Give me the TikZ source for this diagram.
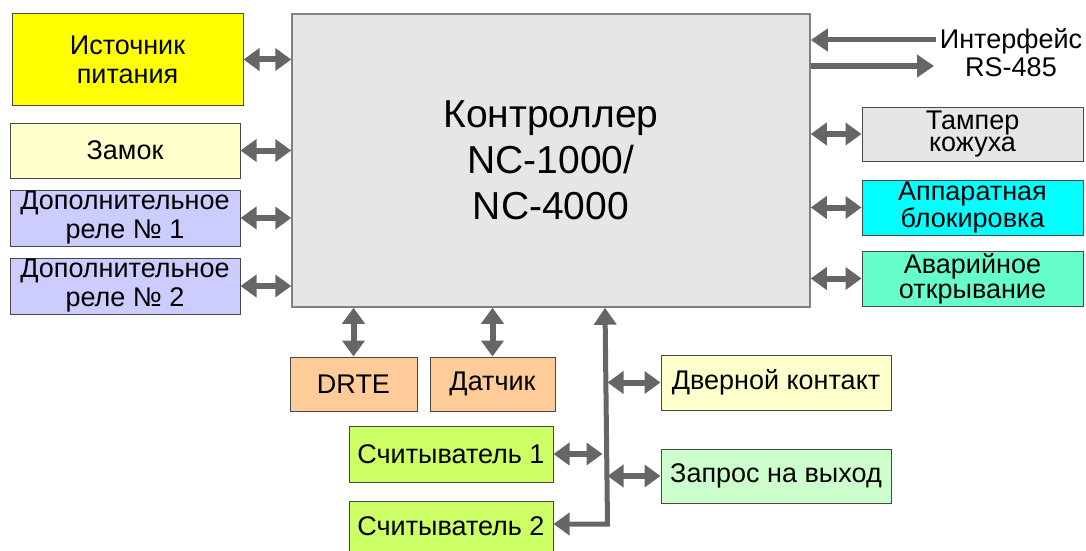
\documentclass[tikz,border=0pt]{standalone}
\usepackage{fontspec}
\setmainfont{Liberation Sans}
\usetikzlibrary{arrows.meta,positioning}
\definecolor{ink}     {HTML}{1A1A1A}
\definecolor{arrgray} {HTML}{666666}
\definecolor{ctlfill} {HTML}{E6E6E6}
\definecolor{pwrfill} {HTML}{FFFF00}
\definecolor{paleyel} {HTML}{FFFFCC}
\definecolor{relfill} {HTML}{CCCCFF}
\definecolor{cyanfill}{HTML}{00FFFF}
\definecolor{aquafill}{HTML}{66FFCC}
\definecolor{peach}   {HTML}{FFCC99}
\definecolor{limefill}{HTML}{CCFF66}
\definecolor{mintfill}{HTML}{CCFFCC}

\tikzset{
  unit/.style={draw=ink!80,line width=1pt,inner sep=0pt,align=center,
    font=\fontsize{27}{29}\selectfont},
  link/.style={draw=arrgray,line width=6pt,
    {Triangle[length=16pt,width=22pt]}-{Triangle[length=16pt,width=22pt]}},
  oneway/.style={draw=arrgray,line width=5pt,-{Triangle[length=17pt,width=22pt]}},
}

\begin{document}
\begin{tikzpicture}[x=1pt,y=-1pt]
  \useasboundingbox (0,0) rectangle (1086,551);
  % controller
  \node[draw=gray,line width=1.5pt,fill=ctlfill,minimum width=518pt,minimum height=293pt,
        align=center,font=\fontsize{39}{46}\selectfont] (ctl) at (551,160.5)
        {Контроллер\\NC-1000/\\NC-4000};
  % left side
  \node[unit,fill=pwrfill,minimum width=231pt,minimum height=91pt] (pwr) at (127.5,59.5) {Источник\\питания};
  \node[unit,fill=paleyel,minimum width=230pt,minimum height=55pt] (lock) at (125,150.5) {Замок};
  \node[unit,fill=relfill,minimum width=230pt,minimum height=56pt] (rel1) at (125,218) {Дополнительное\\реле № 1};
  \node[unit,fill=relfill,minimum width=230pt,minimum height=56pt] (rel2) at (125,286) {Дополнительное\\реле № 2};
  % right side
  \node[align=center,inner sep=0pt,font=\fontsize{27}{28}\selectfont] (rs) at (1011,53) {Интерфейс\\RS-485};
  \node[unit,fill=ctlfill,minimum width=221pt,minimum height=54pt,
        font=\fontsize{27}{22.5}\selectfont] (tamp) at (972.5,134) {Тампер\\кожуха};
  \node[unit,fill=cyanfill,minimum width=221pt,minimum height=55pt,
        font=\fontsize{27}{25}\selectfont] (block) at (972.5,207.5) {Аппаратная\\блокировка};
  \node[unit,fill=aquafill,minimum width=221pt,minimum height=55pt,
        font=\fontsize{27}{25}\selectfont] (emrg) at (972.5,278.5) {Аварийное\\открывание};
  % bottom
  \node[unit,fill=peach,minimum width=127pt,minimum height=54pt] (drte) at (353.5,384) {DRTE};
  \node[unit,fill=peach,minimum width=125pt,minimum height=54pt] (sens) at (492.5,384) {Датчик};
  \node[unit,fill=paleyel,minimum width=230pt,minimum height=55pt] (door) at (776,382.5) {Дверной контакт};
  \node[unit,fill=limefill,minimum width=204pt,minimum height=56pt] (rd1) at (451,454) {Считыватель 1};
  \node[unit,fill=mintfill,minimum width=230pt,minimum height=54pt] (exit) at (776,476) {Запрос на выход};
  \node[unit,fill=limefill,minimum width=204pt,minimum height=50pt] (rd2) at (451,526) {Считыватель 2};

  \coordinate (busbot) at (605,524);
  \coordinate (rsin) at (936,40);
  \coordinate (rsout) at (934,66);

  % links
  \draw[link] (pwr.east) -- (ctl.west |- pwr.east);
  \draw[link] (lock.east) -- (ctl.west |- lock.east);
  \draw[link] (rel1.east) -- (ctl.west |- rel1.east);
  \draw[link] (rel2.east) -- (ctl.west |- rel2.east);
  \draw[oneway] (rsin) -- (ctl.east |- rsin);
  \draw[oneway] (ctl.east |- rsout) -- (rsout);
  \draw[link] (tamp.west) -- (ctl.east |- tamp.west);
  \draw[link] (block.west) -- (ctl.east |- block.west);
  \draw[link] (emrg.west) -- (ctl.east |- emrg.west);
  \draw[link] (drte.north) -- (ctl.south -| drte.north);
  \draw[link] (sens.north) -- (ctl.south -| sens.north);
  % reader bus
  \draw[oneway,{Triangle[length=16pt,width=22pt]}-{Triangle[length=17pt,width=22pt]},line join=miter]
    (rd2.east |- busbot) -- ([xshift=2.5pt]busbot) -- (ctl.south -| busbot);
  \draw[link] (rd1.east) -- ([xshift=-2.5pt]rd1.east -| busbot);
  \draw[link] (door.west) -- ([xshift=2.5pt]door.west -| busbot);
  \draw[link] (exit.west) -- ([xshift=2.5pt]exit.west -| busbot);
\end{tikzpicture}
\end{document}
